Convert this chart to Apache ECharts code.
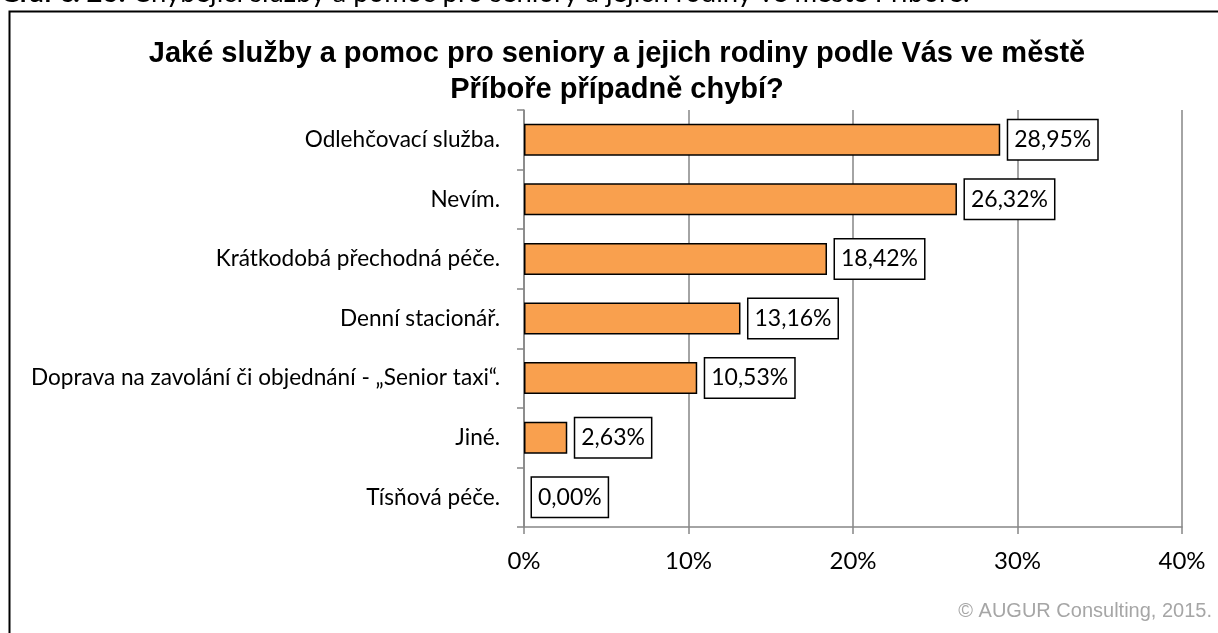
<!DOCTYPE html>
<html>
<head>
<meta charset="utf-8">
<script src="https://cdn.jsdelivr.net/npm/echarts@6/dist/echarts.min.js"></script>
<style>
  html, body { margin: 0; padding: 0; background: #fff; }
  #main { width: 1218px; height: 633px; }
</style>
</head>
<body>
<div id="main"></div>
<script>
// data
var categories = [
  'Odlehčovací služba.',
  'Nevím.',
  'Krátkodobá přechodná péče.',
  'Denní stacionář.',
  'Doprava na zavolání či objednání - „Senior taxi“.',
  'Jiné.',
  'Tísňová péče.'
]
var shares = [28.95, 26.32, 18.42, 13.16, 10.53, 2.63, 0]
var tickLabels = ['0%', '10%', '20%', '30%', '40%']

var chart = echarts.init(document.getElementById('main'))

// zero bar gets no outline, like in excel
var barData = shares.map(function (v) {
  return v === 0 ? { value: v, itemStyle: { borderWidth: 0 } } : v
})

var option = {
  animation: false,
  backgroundColor: '#fff',
  title: {
    text: 'Jaké služby a pomoc pro seniory a jejich rodiny podle Vás ve městě\nPříboře případně chybí?',
    left: 612,
    top: 31,
    textAlign: 'center',
    textStyle: {
      fontFamily: 'Liberation Sans',
      fontWeight: 'bold',
      fontSize: 29,
      lineHeight: 36,
      color: '#000'
    }
  },
  grid: { left: 524, right: 36, top: 110, bottom: 106 },
  xAxis: {
    type: 'value',
    min: 0,
    max: 40,
    interval: 10,
    axisLine: { show: true, lineStyle: { color: '#868686', width: 1.5 } },
    axisTick: { show: true, length: 7, lineStyle: { color: '#868686', width: 1.5 } },
    splitLine: { show: true, lineStyle: { color: '#868686', width: 1.5 } },
    axisLabel: {
      margin: 22,
      fontFamily: 'Lato',
      fontSize: 24,
      color: '#000',
      formatter: function (v) { return tickLabels[Math.round(v / 10)] }
    }
  },
  yAxis: {
    type: 'category',
    inverse: true,
    data: categories,
    axisLine: { show: true, lineStyle: { color: '#868686', width: 1.5 } },
    axisTick: { show: true, length: 7, lineStyle: { color: '#868686', width: 1.5 } },
    axisLabel: {
      margin: 24,
      fontFamily: 'Lato',
      fontSize: 22.6,
      color: '#000'
    }
  },
  series: [
    {
      type: 'bar',
      data: barData,
      barWidth: 32,
      itemStyle: { color: '#f9a04e', borderColor: '#000', borderWidth: 1.5 },
      label: {
        show: true,
        position: 'right',
        distance: 8,
        fontFamily: 'Lato',
        fontSize: 23,
        lineHeight: 28,
        color: '#000',
        backgroundColor: '#fff',
        borderColor: '#000',
        borderWidth: 1.5,
        padding: [6, 6, 5, 6],
        formatter: function (p) { return p.value.toFixed(2).replace('.', ',') + '%' }
      }
    }
  ],
  graphic: [
    {
      type: 'rect',
      silent: true,
      shape: { x: 9.5, y: 11.5, width: 1300, height: 700 },
      style: { fill: 'none', stroke: '#000', lineWidth: 2 }
    },
    {
      type: 'text',
      left: 0,
      top: -21,
      style: {
        text: '{b|Graf č. 26:} Chybějící služby a pomoc pro seniory a jejich rodiny ve městě Příboře.',
        rich: { b: { fontFamily: 'Lato', fontWeight: 'bold', fontSize: 27.5, fill: '#000' } },
        font: '27.5px Lato',
        fill: '#000'
      }
    },
    {
      type: 'text',
      right: 6,
      top: 601,
      style: {
        text: '© AUGUR Consulting, 2015.',
        font: '20px "Liberation Sans"',
        fill: '#a6a6a6'
      }
    }
  ]
}

chart.setOption(option)
</script>
</body>
</html>
